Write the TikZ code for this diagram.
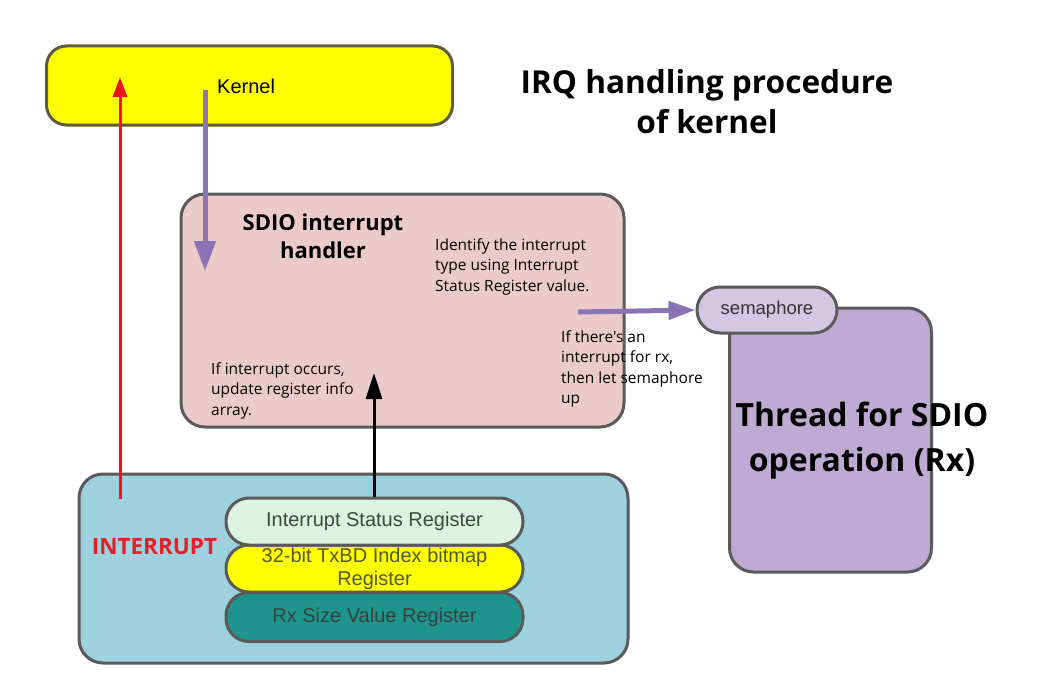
\documentclass[tikz,border=0pt]{standalone}
\usepackage{fontspec}
\setmainfont{Liberation Sans}
\newfontfamily\msfont{Open Sans}
\usetikzlibrary{arrows.meta}
\definecolor{kyellow}{HTML}{FFFF00}
\definecolor{kborder}{HTML}{5E5C40}
\definecolor{bgray}{HTML}{5A5A5A}
\definecolor{hpink}{HTML}{EBCBCA}
\definecolor{hwblue}{HTML}{9DD1DD}
\definecolor{mint}{HTML}{DCF2E2}
\definecolor{teal}{HTML}{1E958C}
\definecolor{lilac}{HTML}{D3C8E3}
\definecolor{thpurple}{HTML}{BEAAD3}
\definecolor{arpurple}{HTML}{8C74B4}
\definecolor{arred}{HTML}{E8141E}
\definecolor{txtred}{HTML}{E0202A}
\definecolor{regtxt}{HTML}{3A4A42}
\tikzset{
  box/.style={draw=bgray, line width=3pt, rounded corners=24pt, inner sep=0pt},
  pill/.style={draw=bgray, line width=3pt, rounded corners=23pt, inner sep=0pt, minimum height=47pt, text=regtxt, font=\fontsize{20}{23}\selectfont},
  small/.style={align=left, anchor=north west, inner sep=0pt, font=\msfont\fontsize{15.5}{20.5}\selectfont},
  purplearrow/.style={draw=arpurple, line width=5pt, -{Triangle[length=30pt,width=21pt]}},
}
\begin{document}
\begin{tikzpicture}[x=1pt,y=-1pt]
\useasboundingbox[fill=white] (0,0) rectangle (1047,677);
% Kernel
\node[box, draw=kborder, fill=kyellow, rounded corners=20pt, minimum width=406pt, minimum height=79pt] (kernel) at (249.5,85.5) {};
\node[anchor=west, inner sep=0pt, font=\fontsize{20}{22}\selectfont] (kerneltxt) at (217,86) {Kernel};
% Title
\node[align=center, inner sep=0pt, font=\msfont\bfseries\fontsize{31.6}{40}\selectfont] (title) at (707,102) {IRQ handling procedure\\of kernel};
% Handler
\node[box, fill=hpink, minimum width=443pt, minimum height=233pt] (handler) at (402.5,310.5) {};
\node[align=center, inner sep=0pt, font=\msfont\bfseries\fontsize{22}{28}\selectfont] (htitle) at (323,236) {SDIO interrupt\\handler};
\node[small] (ident) at (435,238) {Identify the interrupt\\type using Interrupt\\Status Register value.};
\node[small] (upd) at (211,362) {If interrupt occurs,\\update register info\\array.};
% Thread and semaphore
\node[box, fill=thpurple, minimum width=202pt, minimum height=264pt] (thread) at (830.5,440) {};
\node[pill, fill=lilac, minimum width=140pt, minimum height=46pt, text=black!80, font=\fontsize{18.5}{20}\selectfont] (sema) at (767,310) {semaphore};
\node[align=center, inner sep=0pt, font=\msfont\bfseries\fontsize{32}{45}\selectfont] (thtxt) at (862,441) {Thread for SDIO\\operation (Rx)};
\node[small] (rxtxt) at (561,330) {If there's an\\interrupt for rx,\\then let semaphore\\up};
% HW box
\node[box, fill=hwblue, minimum width=549pt, minimum height=189pt] (hw) at (353.5,568.5) {};
\node[pill, fill=teal, minimum width=297pt, minimum height=49pt, text=regtxt!90!black] (rxsize) at (374.5,617) {Rx Size Value Register};
\node[pill, fill=kyellow, minimum width=297pt, align=center, text=regtxt!70!olive] (txbd) at (374.5,568.5) {32-bit TxBD Index bitmap\\Register};
\node[pill, fill=mint, minimum width=297pt] (isr) at (374.5,521.5) {Interrupt Status Register};
\node[inner sep=0pt, text=txtred, font=\msfont\bfseries\fontsize{22.5}{24}\selectfont] (intr) at (154.5,547) {INTERRUPT};
% Connectors
\coordinate (kstart) at (205,90);
\coordinate (hend) at (205,271);
\coordinate (hstart) at (578,312);
\coordinate (hwstart) at (120,499);
\coordinate (kend) at (120,77);
\coordinate (hblack) at (374,373);
\draw[purplearrow] (kstart) -- (hend);
\draw[draw=arpurple, line width=5pt, -{Triangle[length=27pt,width=18pt]}] (hstart) -- (sema.west);
\draw[draw=arred, line width=3pt, -{Triangle[length=20pt,width=14pt]}] (hwstart) -- (kend);
\draw[draw=black, line width=3pt, -{Triangle[length=26pt,width=16pt]}] (isr.north -| hblack) -- (hblack);
\end{tikzpicture}
\end{document}
